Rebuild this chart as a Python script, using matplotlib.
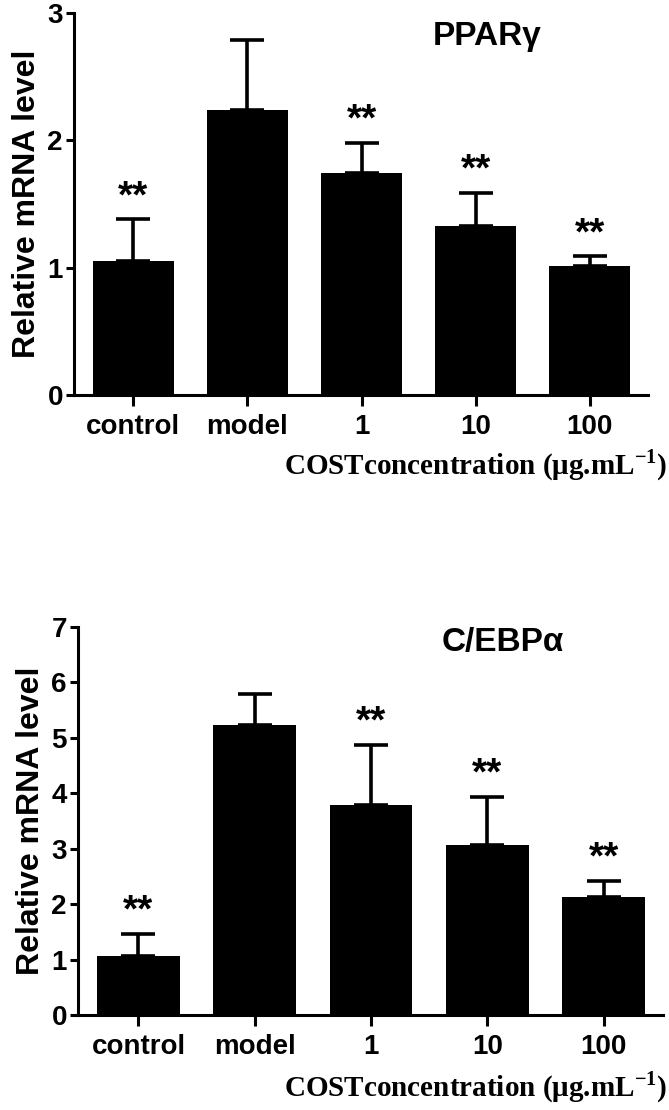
import numpy as np
import matplotlib.pyplot as plt

groups = ["control", "model", "1", "10", "100"]

# PPARγ
ppar_mean = [1.05, 2.24, 1.74, 1.33, 1.01]
ppar_err = [0.33, 0.55, 0.24, 0.26, 0.08]
ppar_sig = ["**", "", "**", "**", "**"]

# C/EBPα
cebp_mean = [1.07, 5.23, 3.79, 3.07, 2.12]
cebp_err = [0.39, 0.57, 1.09, 0.87, 0.30]
cebp_sig = ["**", "", "**", "**", "**"]

plt.rcParams["mathtext.fontset"] = "custom"
plt.rcParams["mathtext.rm"] = "Liberation Serif"
plt.rcParams["mathtext.bf"] = "Liberation Serif:bold"

W, H = 669, 1110
fig = plt.figure(figsize=(W / 100, H / 100), dpi=100)

sans = ["Liberation Sans", "DejaVu Sans"]
serif = ["Liberation Serif", "DejaVu Serif"]
xlab = "COSTconcentration (μg.mL$^{\\mathbf{-1}}$)"


def panel(box, mean, err, sig, ymax, title, title_xy):
    l, t, r, b = box
    ax = fig.add_axes([l / W, 1 - b / H, (r - l) / W, (b - t) / H])
    x = np.arange(len(groups))
    ax.bar(x, mean, width=0.71, color="black", zorder=2)
    ax.errorbar(x, mean, yerr=[np.zeros(len(err)), err], fmt="none",
                ecolor="black", elinewidth=2.6, capsize=12, capthick=2.6, zorder=1)
    for xi, m, e, s in zip(x, mean, err, sig):
        if s:
            ax.annotate(s, (xi, m + e), xytext=(0, 3), textcoords="offset points",
                        ha="center", va="bottom", fontsize=28, fontweight="bold",
                        family=sans)
    ax.set_xlim(-0.52, len(groups) - 0.49)
    ax.set_ylim(0, ymax)
    ax.set_yticks(range(ymax + 1))
    ax.set_xticks(x)
    ax.set_xticklabels(groups)
    for sp in ["top", "right"]:
        ax.spines[sp].set_visible(False)
    for sp in ["left", "bottom"]:
        ax.spines[sp].set_linewidth(2.2)
    ax.tick_params(axis="y", length=6, width=2.2, pad=2, labelsize=20)
    ax.tick_params(axis="x", length=8, width=2.2, pad=6, labelsize=20)
    for lab in ax.get_xticklabels() + ax.get_yticklabels():
        lab.set_fontweight("bold")
        lab.set_family(sans)
    ax.set_ylabel("Relative mRNA level", fontsize=23, fontweight="bold",
                  family=sans, labelpad=4)
    fig.text(title_xy[0] / W, 1 - title_xy[1] / H, title, fontsize=24,
             fontweight="bold", family=sans, ha="center", va="center")
    return ax


panel((74, 13, 648, 395), ppar_mean, ppar_err, ppar_sig, 3, "PPARγ", (487, 37))
fig.text(667 / W, 1 - 465 / H, xlab,
         fontsize=21, fontweight="bold", family=serif, ha="right", va="center")

panel((78, 627, 663, 1015), cebp_mean, cebp_err, cebp_sig, 7, "C/EBPα", (503, 643))
fig.text(667 / W, 1 - 1087 / H, xlab,
         fontsize=21, fontweight="bold", family=serif, ha="right", va="center")

fig.savefig("out.png", dpi=100)
